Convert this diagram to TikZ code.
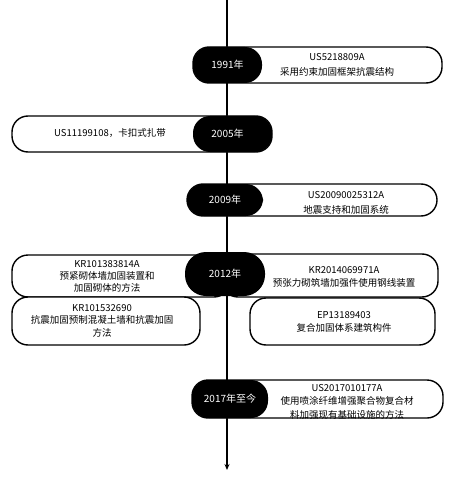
\documentclass[tikz,border=0pt]{standalone}
\usepackage{fontspec}
\setmainfont{Noto Sans CJK SC}
\usetikzlibrary{arrows.meta}

\begin{document}
\begin{tikzpicture}[x=1pt, y=-1pt, >={Stealth[length=6pt,width=5pt]},
    evbox/.style={draw, line width=1.4pt, fill=white, rounded corners=16pt, inner sep=0pt},
    yearbox/.style={fill=black, text=white, rounded corners=17pt, inner sep=0pt,
      font=\fontsize{10}{12}\selectfont},
    info/.style={align=center, inner sep=0pt, font=\fontsize{9.5}{12.5}\selectfont}]
\useasboundingbox (0,0) rectangle (454,484);
\coordinate (axistop) at (227,0);
\coordinate (axisend) at (227,470);
\draw[->, line width=1.4pt] (axistop) -- (axisend);

\node[evbox, minimum width=249pt, minimum height=36pt] (b1991) at (317.5,65) {};
\node[yearbox, minimum width=69pt, minimum height=36pt] (y1991) at (227.5,65) {1991年};
\node[info, font=\fontsize{9.5}{15}\selectfont] (t1991) at (337,65) {US5218809A\\采用约束加固框架抗震结构};

\node[evbox, minimum width=260pt, minimum height=36pt] (b2005) at (142,134) {};
\node[yearbox, minimum width=79pt, minimum height=36pt] (y2005) at (232.5,134) {\hspace*{-10pt}2005年};
\node[info] (t2005) at (110,133) {US11199108，卡扣式扎带};

\node[evbox, minimum width=250pt, minimum height=32pt] (b2009) at (312,200) {};
\node[yearbox, minimum width=76pt, minimum height=32pt] (y2009) at (225,200) {2009年};
\node[info, font=\fontsize{9.5}{15.5}\selectfont] (t2009) at (346,203) {US20090025312A\\地震支持和加固系统};

\node[evbox, minimum width=218pt, minimum height=42pt] (b2012a) at (121,276) {};
\node[evbox, minimum width=216pt, minimum height=43pt] (b2012b) at (330,275.5) {};
\node[evbox, minimum width=188pt, minimum height=48pt] (b2012c) at (106,321) {};
\node[evbox, minimum width=185pt, minimum height=47pt] (b2012d) at (342.5,321.5) {};
\node[yearbox, minimum width=80pt, minimum height=44pt, rounded corners=21pt] (y2012) at (225,274) {2012年};
\node[info, font=\fontsize{9.5}{11.8}\selectfont] (t2012a) at (107,276.5) {KR101383814A\\预紧砌体墙加固装置和\\加固砌体的方法};
\node[info] (t2012b) at (344,277) {KR2014069971A\\预张力砌筑墙加强件使用钢线装置};
\node[info, font=\fontsize{9.5}{12.5}\selectfont] (t2012c) at (102,320.5) {KR101532690\\抗震加固预制混凝土墙和抗震加固\\方法};
\node[info, font=\fontsize{9.5}{13}\selectfont] (t2012d) at (344,321.5) {EP13189403\\复合加固体系建筑构件};

\node[evbox, minimum width=251pt, minimum height=38pt] (b2017) at (317.5,399) {};
\node[yearbox, minimum width=76pt, minimum height=38pt] (y2017) at (230,399) {2017年至今};
\node[info, font=\fontsize{9.5}{13.5}\selectfont] (t2017) at (347,401.5) {US2017010177A\\使用喷涂纤维增强聚合物复合材\\料加强现有基础设施的方法};
\end{tikzpicture}
\end{document}
